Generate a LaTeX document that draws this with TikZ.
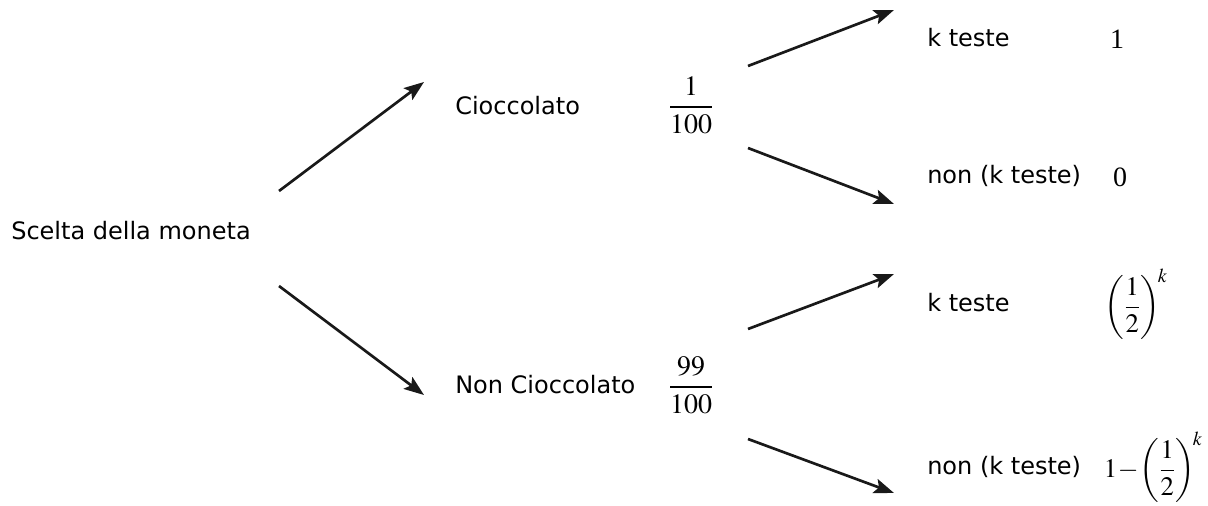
\documentclass[tikz,border=0pt]{standalone}
\usepackage{mathptmx}
\usepackage[no-math]{fontspec}
\setmainfont{DejaVu Sans}
\newfontfamily\numfont{Liberation Serif}
\usetikzlibrary{arrows.meta, positioning}
\tikzset{lbl/.style={anchor=base west, inner sep=0pt, font=\fontsize{18}{22}\selectfont},
    prob/.style={anchor=base, inner sep=0pt, font=\fontsize{21}{25}\selectfont},
    branch/.style={draw=black!90, line width=2pt, -{Stealth[length=15pt, width=11pt, inset=3pt]}}}

\begin{document}
\begin{tikzpicture}[x=0.75pt, y=-0.75pt]
  \useasboundingbox (0,0) rectangle (1208,506);

  % Nodes
  \node[lbl] (SM) at (11,240) {Scelta della moneta};
  \node[lbl] (C)  at (455,115) {Cioccolato};
  \node[lbl] (NC) at (455,393) {Non Cioccolato};
  \node[lbl] (CK) at (927,47)  {k teste};
  \node[lbl] (CN) at (927,184) {non (k teste)};
  \node[lbl] (NK) at (927,312) {k teste};
  \node[lbl] (NN) at (927,474) {non (k teste)};

  % Probabilities
  \node[prob] (pC)  at (691,114) {$\displaystyle\frac{1}{100}$};
  \node[prob] (pNC) at (691,394) {$\displaystyle\frac{99}{100}$};
  \node[prob] (pCK) at (1117,49) {\numfont 1};
  \node[prob] (pCN) at (1120,187) {\numfont 0};
  \node[prob, anchor=base east, font=\fontsize{20}{24}\selectfont] (pNK) at (1168,314)
    {$\displaystyle\left(\frac{1}{2}\right)^{\!k}$};
  \node[prob, anchor=base east, font=\fontsize{20}{24}\selectfont] (pNN) at (1203,477)
    {$\displaystyle 1\!-\!\left(\frac{1}{2}\right)^{\!k}$};

  % Arrow ends
  \coordinate (SM-u) at (279,191);
  \coordinate (SM-d) at (279,286);
  \coordinate (C-in)  at (424,82);
  \coordinate (NC-in) at (424,395);
  \coordinate (C-u)  at (748,66);
  \coordinate (C-d)  at (748,148);
  \coordinate (NC-u) at (748,329);
  \coordinate (NC-d) at (748,439);
  \coordinate (CK-in) at (894,10);
  \coordinate (CN-in) at (894,204);
  \coordinate (NK-in) at (894,274);
  \coordinate (NN-in) at (894,493);

  % Arrows
  \draw[branch] (SM-u) -- (C-in);
  \draw[branch] (SM-d) -- (NC-in);
  \draw[branch] (C-u) -- (CK-in);
  \draw[branch] (C-d) -- (CN-in);
  \draw[branch] (NC-u) -- (NK-in);
  \draw[branch] (NC-d) -- (NN-in);

\end{tikzpicture}
\end{document}
